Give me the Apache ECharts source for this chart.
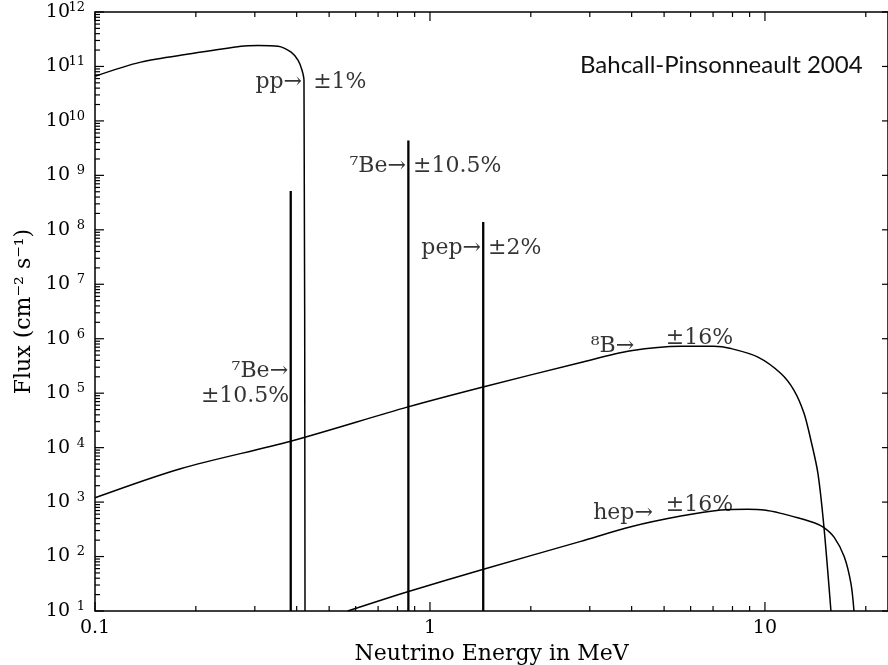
<!DOCTYPE html>
<html>
<head>
<meta charset="utf-8">
<script src="https://cdn.jsdelivr.net/npm/echarts@6/dist/echarts.min.js"></script>
<style>
  html, body { margin: 0; padding: 0; background: #ffffff; }
  #chart { width: 888px; height: 665px; }
</style>
</head>
<body>
<div id="chart"></div>
<script>
// Solar neutrino spectra, flux in cm^-2 s^-1 (per MeV for the continua)
const ppEnergy  = [0.1, 0.137, 0.193, 0.273, 0.307, 0.352, 0.385, 0.404, 0.415, 0.4206, 0.4236];
const ppFlux    = [6.6e10, 1.2e11, 1.71e11, 2.36e11, 2.43e11, 2.36e11, 1.83e11, 1.29e11, 8.5e10, 5.5e10, 10];

const b8Energy  = [0.1, 0.181, 0.384, 0.86, 1.44, 2.82, 3.98, 5.61, 7.04, 7.92, 9.53, 11.16, 12.21, 13.08, 13.71, 14.39, 15.0, 15.74];
const b8Flux    = [1.2e3, 4.15e3, 1.31e4, 5.6e4, 1.3e5, 3.66e5, 6.0e5, 7.3e5, 7.3e5, 6.6e5, 4.6e5, 2.3e5, 1.13e5, 4.3e4, 1.38e4, 3.4e3, 350, 10];

const hepEnergy = [0.568, 0.858, 1.436, 2.82, 3.98, 5.61, 7.39, 8.88, 9.95, 11.16, 12.52, 14.03, 14.97, 16.1, 17.25, 18.06, 18.44];
const hepFlux   = [10, 22.6, 58, 190, 352, 553, 713, 735, 713, 621, 515, 417, 343, 225, 99, 32, 10];

// Monoenergetic lines: 7Be (0.384 MeV), 7Be (0.862 MeV), pep (1.442 MeV)
const lineEnergy = [0.384, 0.862, 1.442];
const lineFlux   = [5.15e8, 4.38e9, 1.39e8];

// Axis ranges and tick labels
const xMin = 0.1, xMax = 23.3;
const yMin = 10, yMax = 1e12;
const xTickValues = [0.1, 1, 10];
const xTickText   = ['0.1', '1', '10'];
const yTickExponents = [1, 2, 3, 4, 5, 6, 7, 8, 9, 10, 11, 12];

// Annotations: text, anchor energy, anchor flux, side of the anchor the text sits on
const notes = [
  ['pp\u2192',        0.415, 5.1e10, 'left'],
  ['\u00b11%',        0.448, 5.1e10, 'right'],
  ['\u2077Be\u2192',  0.848, 1.46e9, 'left'],
  ['\u00b110.5%',     0.890, 1.46e9, 'right'],
  ['pep\u2192',       1.42,  4.57e7, 'left'],
  ['\u00b12%',        1.49,  4.57e7, 'right'],
  ['\u2077Be\u2192',  0.377, 2.5e5,  'left'],
  ['\u00b110.5%',     0.380, 8.6e4,  'left'],
  ['\u2078B\u2192',   3.02,  7.3e5,  'right'],
  ['\u00b116%',       5.06,  1.02e6, 'right'],
  ['hep\u2192',       3.07,  628,    'right'],
  ['\u00b116%',       5.06,  881,    'right']
];

const INK = '#000000';
const SERIF = "'DejaVu Serif', serif";

function pairs(xs, ys) { return xs.map((x, i) => [x, ys[i]]); }

// log-axis minor tick positions (2..9 within each decade)
function minorTicks(lo, hi) {
  const out = [];
  for (let d = lo; d < hi * 1.0001; d *= 10) {
    for (let k = 2; k <= 9; k++) {
      const v = d * k;
      if (v > lo && v < hi) out.push(v);
    }
  }
  return out;
}

const xTickData = xTickValues.map(v => [v, yMin, 1])
  .concat(minorTicks(0.1, xMax).map(v => [v, yMin, 0]));
const yTickData = yTickExponents.map(e => [xMin, Math.pow(10, e), 1])
  .concat(minorTicks(10, yMax).map(v => [xMin, v, 0]));

function xTickItem(params, api) {
  const cs = params.coordSys;
  const x = api.coord([api.value(0), api.value(1)])[0];
  const len = api.value(2) === 1 ? 9 : 5;
  const bottom = cs.y + cs.height, top = cs.y;
  const style = { stroke: INK, lineWidth: 1.2 };
  return { type: 'group', children: [
    { type: 'line', shape: { x1: x, y1: bottom, x2: x, y2: bottom - len }, style: style },
    { type: 'line', shape: { x1: x, y1: top, x2: x, y2: top + len }, style: style }
  ] };
}

function yTickItem(params, api) {
  const cs = params.coordSys;
  const y = api.coord([api.value(0), api.value(1)])[1];
  const major = api.value(2) === 1;
  const left = cs.x, right = cs.x + cs.width;
  const style = { stroke: INK, lineWidth: 1.2 };
  const children = [
    { type: 'line', shape: { x1: left, y1: y, x2: left + (major ? 9 : 5), y2: y }, style: style }
  ];
  if (major) {
    children.push({ type: 'line', shape: { x1: right, y1: y, x2: right - 6, y2: y }, style: style });
  }
  return { type: 'group', children: children };
}

const curveStyle = { color: INK, width: 1.5 };
const spikeStyle = { color: INK, width: 2.3 };

const series = [
  { name: 'pp', type: 'line', data: pairs(ppEnergy, ppFlux), showSymbol: false,
    smooth: 0.3, lineStyle: curveStyle, silent: true },
  { name: '8B', type: 'line', data: pairs(b8Energy, b8Flux), showSymbol: false,
    smooth: 0.3, lineStyle: curveStyle, silent: true },
  { name: 'hep', type: 'line', data: pairs(hepEnergy, hepFlux), showSymbol: false,
    smooth: 0.3, lineStyle: curveStyle, silent: true }
];

lineEnergy.forEach((e, i) => {
  series.push({ type: 'line', data: [[e, yMin], [e, lineFlux[i]]], showSymbol: false,
    lineStyle: spikeStyle, silent: true });
});

series.push({ type: 'custom', renderItem: xTickItem, data: xTickData,
  encode: { x: 0, y: 1 }, silent: true, z: 5 });
series.push({ type: 'custom', renderItem: yTickItem, data: yTickData,
  encode: { x: 0, y: 1 }, silent: true, z: 5 });

series.push({
  type: 'scatter', symbolSize: 0, silent: true, z: 6,
  data: notes.map(n => ({
    value: [n[1], n[2]],
    label: { show: true, formatter: n[0], position: n[3], distance: 0 }
  })),
  label: { fontFamily: SERIF, fontSize: 22, color: INK }
});

const chart = echarts.init(document.getElementById('chart'), null, { renderer: 'canvas' });
chart.setOption({
  animation: false,
  backgroundColor: '#ffffff',
  title: {
    text: 'Bahcall-Pinsonneault 2004',
    left: 580, top: 53, padding: 0,
    textStyle: { fontFamily: 'Lato', fontSize: 24, fontWeight: 'normal', color: '#111111' }
  },
  grid: {
    left: 95, right: 0, top: 12, bottom: 54,
    outerBoundsMode: 'none', containLabel: false,
    show: true, borderColor: INK, borderWidth: 1.5, backgroundColor: 'transparent'
  },
  xAxis: {
    type: 'log', logBase: 10, min: xMin, max: xMax, interval: 1,
    name: 'Neutrino Energy in MeV', nameLocation: 'middle', nameGap: 27,
    nameTextStyle: { fontFamily: SERIF, fontSize: 22, color: INK },
    axisLine: { show: false }, axisTick: { show: false }, splitLine: { show: false },
    axisLabel: {
      margin: 8, fontFamily: SERIF, fontSize: 19, color: INK,
      formatter: function (v) {
        for (let i = 0; i < xTickValues.length; i++) {
          if (Math.abs(v - xTickValues[i]) < xTickValues[i] * 1e-6) return xTickText[i];
        }
        return '';
      }
    }
  },
  yAxis: {
    type: 'log', logBase: 10, min: yMin, max: yMax, interval: 1,
    name: 'Flux (cm\u207b\u00b2 s\u207b\u00b9)', nameLocation: 'middle', nameGap: 57, nameRotate: 90,
    nameTextStyle: { fontFamily: SERIF, fontSize: 22, color: INK },
    axisLine: { show: false }, axisTick: { show: false }, splitLine: { show: false },
    axisLabel: {
      margin: 10, color: INK,
      formatter: function (v) {
        const e = Math.round(Math.log10(v));
        if (yTickExponents.indexOf(e) < 0) return '';
        return '{b|10}{e|' + e + '}';
      },
      rich: {
        b: { fontFamily: SERIF, fontSize: 19, color: INK, lineHeight: 22 },
        e: { fontFamily: SERIF, fontSize: 13, color: INK, width: 15, align: 'right', verticalAlign: 'top', lineHeight: 14 }
      }
    }
  },
  series: series
});
</script>
</body>
</html>
